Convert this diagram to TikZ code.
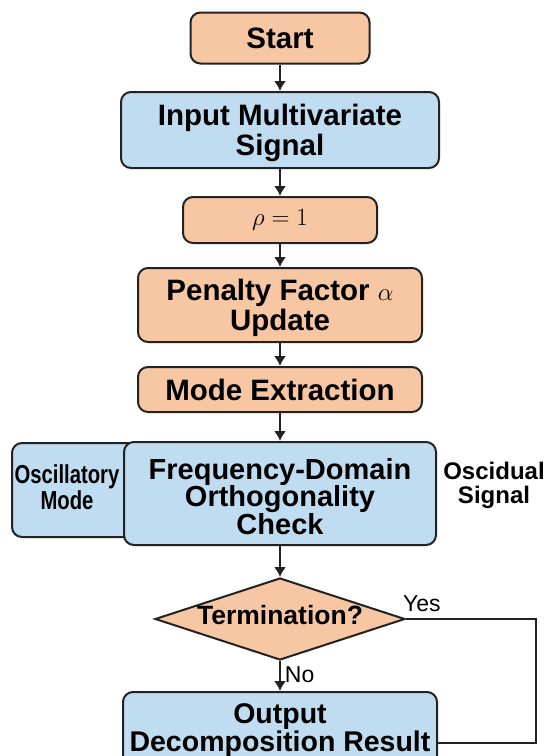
\documentclass[tikz,border=0pt]{standalone}
\usepackage{fontspec}
\setmainfont{Liberation Sans}
\newfontfamily\narrowsans[FakeStretch=0.78]{Liberation Sans}
\usetikzlibrary{arrows.meta,shapes.geometric}
\definecolor{peach}{HTML}{F7C7A3}
\definecolor{skyfill}{HTML}{C0DCF0}
\definecolor{edge}{HTML}{222222}
% taller first line pushes a multi-line label slightly down
\newcommand{\lowerfirst}{\rule{0pt}{27pt}}
\begin{document}
\begin{tikzpicture}[x=1pt,y=-1pt,
  box/.style={draw=edge,line width=2pt,rounded corners=10pt,align=center,
    inner sep=0pt,font=\bfseries\fontsize{29.5}{30}\selectfont},
  warm/.style={box,fill=peach},
  cool/.style={box,fill=skyfill},
  flow/.style={draw=edge,line width=1.9pt,-{Latex[length=10pt,width=12pt]}},
  plainline/.style={draw=edge,line width=1.6pt},
  sidetext/.style={align=center,inner sep=0pt},
  branchtext/.style={inner sep=0pt,font=\fontsize{23}{25}\selectfont}]
\useasboundingbox (0,0) rectangle (546,756);
\clip (0,0) rectangle (546,756);
\fill[white] (0,0) rectangle (546,756);

% main column
\node[warm,minimum width=179,minimum height=51] (start) at (280,38) {Start};
\node[cool,minimum width=318,minimum height=76] (input) at (280,130) {\lowerfirst Input Multivariate\\Signal};
\node[warm,minimum width=194,minimum height=46,font=\fontsize{28}{30}\selectfont] (rho) at (280,220) {$\rho = 1$};
\node[warm,minimum width=284,minimum height=74] (penalty) at (280,305) {\lowerfirst Penalty Factor $\alpha$\\Update};
\node[warm,minimum width=284,minimum height=45] (mode) at (280,389.5) {Mode Extraction};

% side box tucked behind the check box
\node[cool,minimum width=138,minimum height=94] (osc) at (81,490) {};
\node[sidetext,font=\narrowsans\bfseries\fontsize{26}{26}\selectfont] (osclabel) at (67,487) {Oscillatory\\Mode};

\node[cool,minimum width=312,minimum height=103,font=\bfseries\fontsize{29}{27.5}\selectfont] (freq) at (280,493.5) {\lowerfirst Frequency-Domain\\Orthogonality\\Check};
\node[sidetext,font=\bfseries\fontsize{24}{24}\selectfont] (resid) at (494,485) {Oscidual\\Signal};

% decision
\node[draw=edge,line width=2pt,fill=peach,diamond,minimum width=250,minimum height=82,inner sep=0pt] (term) at (280,619) {};
\node[inner sep=0pt,font=\bfseries\fontsize{26.5}{28}\selectfont] (termtext) at (280,615) {Termination?};

\node[cool,minimum width=314,minimum height=77,font=\bfseries\fontsize{28.5}{25}\selectfont] (out) at (280,730.5) {Output\\Decomposition Result};

% connectors
\draw[flow] (start) -- (input);
\draw[flow] (input) -- (rho);
\draw[flow] (rho) -- (penalty);
\draw[flow] (penalty) -- (mode);
\draw[flow] (mode) -- (freq);
\draw[flow] (freq) -- (term);
\draw[flow] (term.south) -- node[branchtext,right=4pt,pos=0.45] (no) {No} (out.north);

\node[branchtext,anchor=south west] (yes) at ([shift={(-3,-7)}]term.east) {Yes};
\coordinate (loopne) at (536,619);
\coordinate (loopse) at (536,743);
\draw[plainline] (term.east) -- (loopne) -- (loopse) -- (loopse -| out.east);
\end{tikzpicture}
\end{document}
